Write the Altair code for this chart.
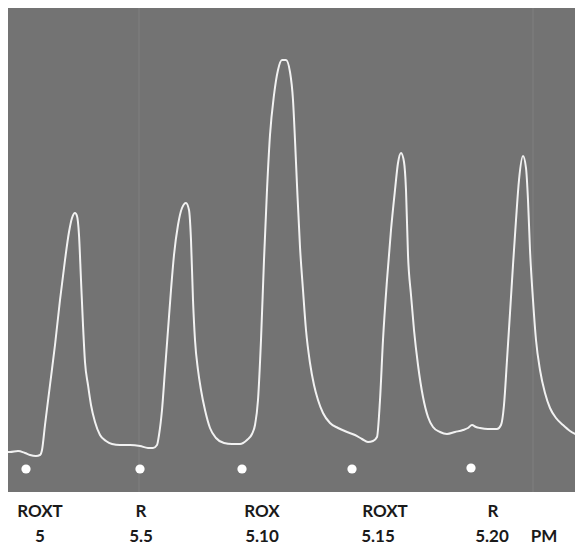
import altair as alt
import pandas as pd

# Oscilloscope trace (time position along sweep, deflection above panel bottom)
trace_t = [2, 10, 18, 25, 30, 36, 40, 42,
           45, 50, 55, 60, 65, 69, 72, 75, 77, 79,
           81, 83, 85, 88, 91, 95, 100, 106, 112, 120, 130, 140, 148, 153, 157,
           159, 162, 165, 168, 171, 174, 178, 182, 186, 189, 191,
           193, 195, 198, 201, 205, 210, 216, 224, 232, 240, 247, 252, 255,
           258, 261, 264, 267, 270, 274, 278, 282, 286, 290, 293, 295, 297,
           300, 303, 306, 310, 314, 318, 323, 330, 338, 347, 355, 362, 368, 373, 377,
           380, 383, 387, 391, 395, 398, 401, 404, 406,
           408, 411, 414, 418, 423, 428, 433, 440, 447, 455, 463, 468, 472, 476, 480, 488, 497, 501,
           504, 507, 510, 513, 516, 519, 523, 526, 528,
           530, 533, 536, 540, 545, 550, 556, 563, 570, 577, 581]
trace_y = [452, 452, 451, 453, 455, 456, 455, 450,
           425, 385, 345, 300, 260, 232, 218, 213, 216, 235,
           280, 325, 362, 385, 405, 422, 435, 441, 444, 445, 445, 446, 448, 448, 445,
           435, 410, 370, 330, 290, 255, 225, 208, 203, 210, 240,
           300, 340, 370, 390, 410, 428, 438, 443, 444, 444, 440, 434, 425,
           400, 340, 260, 190, 135, 95, 70, 60, 60, 72, 100, 140, 185,
           247, 290, 330, 363, 385, 400, 413, 423, 428, 432, 435, 439, 442, 441, 437,
           400, 340, 280, 230, 190, 163, 153, 162, 190,
           255, 295, 330, 365, 397, 417, 427, 432, 434, 432, 430, 428, 425, 427, 428, 429, 429, 425,
           405, 360, 313, 265, 220, 180, 156, 168, 200,
           250, 300, 340, 370, 393, 408, 418, 425, 431, 435, 437]

# Time markers (dots under the trace)
marker_t = [26, 140, 242, 352, 471]
marker_y = [469, 469, 469, 469, 468]

# Labels
sample_labels = ["ROXT", "R", "ROX", "ROXT", "R"]
sample_t = [40, 141, 262, 385, 493]
time_labels = ["5", "5.5", "5.10", "5.15", "5.20", "PM"]
time_t = [40, 141, 262, 378, 492, 544]

PANEL_BOTTOM = 492


def to_level(v):
    return PANEL_BOTTOM - v


trace_df = pd.DataFrame({"t": trace_t, "level": [to_level(v) for v in trace_y]})
marker_df = pd.DataFrame({"t": marker_t, "level": [to_level(v) for v in marker_y]})
lab1_df = pd.DataFrame({"t": sample_t, "label": sample_labels, "level": [to_level(512)] * len(sample_t)})
lab2_df = pd.DataFrame({"t": time_t, "label": time_labels, "level": [to_level(537)] * len(time_t)})
panel_df = pd.DataFrame({"t": [2], "t2": [581], "level": [to_level(492)], "level2": [to_level(2)]})
streak_df = pd.DataFrame({"t": [139, 533], "level": [to_level(492)] * 2, "level2": [to_level(2)] * 2})

xs = alt.Scale(domain=[8, 575], nice=False, zero=False)
ys = alt.Scale(domain=[to_level(543), to_level(8)], nice=False, zero=False)

panel = alt.Chart(panel_df).mark_rect(color="#737373", clip=True).encode(
    x=alt.X("t:Q", scale=xs, axis=None), x2="t2:Q",
    y=alt.Y("level:Q", scale=ys, axis=None), y2="level2:Q")

streaks = alt.Chart(streak_df).mark_rule(color="#7e7e7e", strokeWidth=1.5, opacity=0.8,
                                         clip=True).encode(
    x=alt.X("t:Q", scale=xs, axis=None),
    y=alt.Y("level:Q", scale=ys, axis=None), y2="level2:Q")

line = alt.Chart(trace_df).mark_line(color="#f2f2f2", strokeWidth=2, clip=True,
                                      interpolate="monotone").encode(
    x=alt.X("t:Q", scale=xs, axis=None),
    y=alt.Y("level:Q", scale=ys, axis=None))

dots = alt.Chart(marker_df).mark_point(filled=True, color="#ffffff", size=85, opacity=1).encode(
    x=alt.X("t:Q", scale=xs, axis=None),
    y=alt.Y("level:Q", scale=ys, axis=None))

text_props = dict(font="Lato", fontSize=17, fontWeight="bold", color="#1a1a1a",
                  align="center", baseline="middle")
lab1 = alt.Chart(lab1_df).mark_text(**text_props).encode(
    x=alt.X("t:Q", scale=xs, axis=None), y=alt.Y("level:Q", scale=ys, axis=None), text="label:N")
lab2 = alt.Chart(lab2_df).mark_text(**text_props).encode(
    x=alt.X("t:Q", scale=xs, axis=None), y=alt.Y("level:Q", scale=ys, axis=None), text="label:N")

chart = alt.layer(panel, streaks, line, dots, lab1, lab2).properties(
    width=567, height=535, padding=0, background="#ffffff"
).configure_view(stroke=None)

chart.save("out.html", embed_options={"renderer": "svg", "actions": False})
